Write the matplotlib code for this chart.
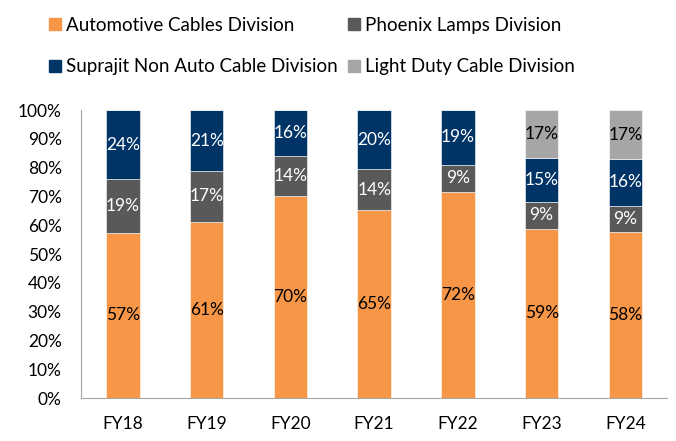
import matplotlib.pyplot as plt
from matplotlib.patches import Patch

years = ['FY18', 'FY19', 'FY20', 'FY21', 'FY22', 'FY23', 'FY24']
automotive = [57.4, 61.2, 70.0, 65.3, 71.6, 58.8, 57.7]
phoenix = [18.6, 17.6, 13.9, 14.2, 9.4, 9.4, 9.1]
non_auto = [24.0, 21.2, 16.1, 20.5, 19.0, 15.3, 16.2]
light_duty = [0, 0, 0, 0, 0, 16.5, 17.0]

auto_lbl = [57, 61, 70, 65, 72, 59, 58]
phoenix_lbl = [19, 17, 14, 14, 9, 9, 9]
non_auto_lbl = [24, 21, 16, 20, 19, 15, 16]
light_lbl = [None, None, None, None, None, 17, 17]

names = ['Automotive Cables Division', 'Phoenix Lamps Division',
         'Suprajit Non Auto Cable Division', 'Light Duty Cable Division']
colors = ['#F79646', '#595959', '#003366', '#A6A6A6']
text_colors = ['black', 'white', 'white', 'black']


def build_graph():
    plt.rcParams['font.family'] = ['Lato', 'DejaVu Sans']
    fig = plt.figure(figsize=(6.76, 4.41), dpi=100)
    ax = fig.add_axes([0.12, 0.0975, 0.867, 0.653])

    x = list(range(len(years)))
    bottom = [0] * len(years)
    series = [automotive, phoenix, non_auto, light_duty]
    labels = [auto_lbl, phoenix_lbl, non_auto_lbl, light_lbl]
    for vals, lbls, c, tc in zip(series, labels, colors, text_colors):
        ax.bar(x, vals, width=0.4, bottom=bottom, color=c,
               edgecolor='white', linewidth=0.4)
        for i, (v, l) in enumerate(zip(vals, lbls)):
            if l is None:
                continue
            ax.text(i, bottom[i] + v / 2, f'{l}%', ha='center', va='center',
                    color=tc, fontsize=12.5)
        bottom = [b + v for b, v in zip(bottom, vals)]

    ax.set_xlim(-0.5, len(years) - 0.5)
    ax.set_ylim(0, 100)
    ax.set_yticks(range(0, 101, 10))
    ax.set_yticklabels([f'{t}%' for t in range(0, 101, 10)], fontsize=12.5)
    ax.set_xticks(x)
    ax.set_xticklabels(years, fontsize=12.5)
    ax.tick_params(length=0)
    ax.tick_params(axis='x', pad=13)
    ax.tick_params(axis='y', pad=14)
    for s in ['top', 'right']:
        ax.spines[s].set_visible(False)
    for s in ['left', 'bottom']:
        ax.spines[s].set_color('#A6A6A6')

    # legend is filled column by column, so order it to read row by row
    order = [0, 2, 1, 3]
    handles = [Patch(color=colors[i]) for i in order]
    fig.legend(handles, [names[i] for i in order], ncol=2, loc='upper left',
               bbox_to_anchor=(0.048, 1.0), frameon=False, fontsize=13.5,
               handlelength=0.6, handleheight=0.6, handletextpad=0.3,
               labelspacing=1.3, columnspacing=0.55)

    fig.savefig('out.png', dpi=100)


def main():
    build_graph()


if __name__ == "__main__":
    main()
